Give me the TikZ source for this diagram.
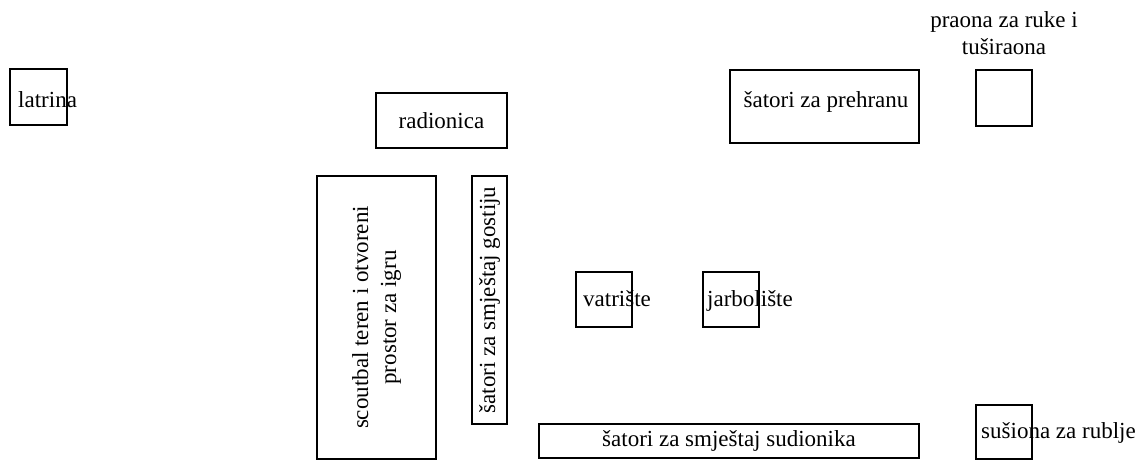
\documentclass[tikz,border=0pt]{standalone}
\usepackage{fontspec}
\setmainfont{Liberation Serif}
\begin{document}
\begin{tikzpicture}[x=1pt,y=-1pt,
  box/.style={draw=black,line width=1.1pt,inner sep=0pt},
  lbl/.style={inner sep=0pt,font=\fontsize{23}{27}\selectfont},
  boxt/.style={box,font=\fontsize{23}{28}\selectfont,align=center}]
\useasboundingbox (0,0) rectangle (1147,461);
% latrina
\node[box,minimum width=57pt,minimum height=56pt] (latrina) at (38.5,97) {};
\node[lbl,anchor=base west] (latrinat) at (18,107) {latrina};
% radionica
\node[boxt,minimum width=131pt,minimum height=55pt] (radionica) at (441.5,120.5) {radionica};
% šatori za prehranu
\node[box,minimum width=189pt,minimum height=73pt] (prehrana) at (824.5,106.5) {};
\node[lbl,anchor=base] (prehranat) at (826,107) {šatori za prehranu};
% praona
\node[lbl,anchor=base,align=center] (praonat) at (1004,54) {praona za ruke i\\tuširaona};
\node[box,minimum width=56pt,minimum height=56pt] (praona) at (1004,98) {};
% scoutbal
\node[boxt,rotate=90,minimum width=283pt,minimum height=119pt] (scoutbal) at (376.5,317.5) {scoutbal teren i otvoreni\\prostor za igru};
% gostiju
\node[boxt,rotate=90,minimum width=248pt,minimum height=35pt] (gostiju) at (489.5,300) {šatori za smještaj gostiju};
% vatrište
\node[box,minimum width=56pt,minimum height=55pt] (vatriste) at (604,299.5) {};
\node[lbl,anchor=base west] (vatristet) at (583,306) {vatrište};
% jarbolište
\node[box,minimum width=56pt,minimum height=55pt] (jarboliste) at (731,299.5) {};
\node[lbl,anchor=base west] (jarbolistet) at (707,306) {jarbolište};
% sudionika
\node[boxt,minimum width=380pt,minimum height=34pt] (sudionika) at (729,441) {šatori za smještaj sudionika};
% sušiona
\node[box,minimum width=56pt,minimum height=54pt] (susiona) at (1004,432) {};
\node[lbl,anchor=base west] (susionat) at (981,438) {sušiona za rublje};
\end{tikzpicture}
\end{document}
